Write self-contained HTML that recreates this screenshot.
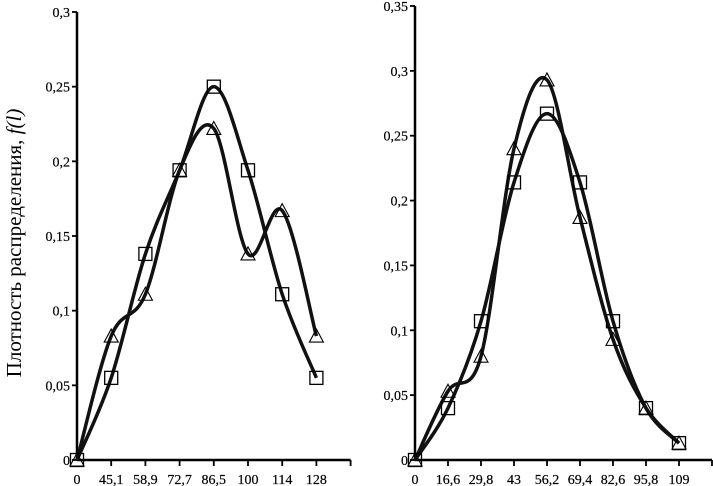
<!DOCTYPE html>
<html><head><meta charset="utf-8"><style>
body{margin:0;background:#fff}
svg{display:block;font-family:"Liberation Serif",serif}
</style></head><body>
<svg id="c" width="713" height="486"></svg>
<script>
const leftCats=["0","45,1","58,9","72,7","86,5","100","114","128"];
const leftSquares=[0,0.055,0.138,0.194,0.25,0.194,0.111,0.055];
const leftTriangles=[0,0.083,0.111,0.194,0.222,0.138,0.167,0.083];
const leftTicks=["0","0,05","0,1","0,15","0,2","0,25","0,3"];
const rightCats=["0","16,6","29,8","43","56,2","69,4","82,6","95,8","109"];
const rightSquares=[0,0.04,0.107,0.214,0.267,0.214,0.107,0.04,0.013];
const rightTriangles=[0,0.053,0.08,0.24,0.293,0.187,0.093,0.04,0.013];
const rightTicks=["0","0,05","0,1","0,15","0,2","0,25","0,3","0,35"];
const NS="http://www.w3.org/2000/svg";
const svg=document.getElementById('c');
function mk(tag,attrs,parent){const e=document.createElementNS(NS,tag);for(const k in attrs)e.setAttribute(k,attrs[k]);(parent||svg).appendChild(e);return e;}
function spline(pts){let d=`M${pts[0][0]},${pts[0][1]}`;for(let i=0;i<pts.length-1;i++){const p0=pts[Math.max(0,i-1)],p1=pts[i],p2=pts[i+1],p3=pts[Math.min(pts.length-1,i+2)];const c1=[p1[0]+(p2[0]-p0[0])/6,p1[1]+(p2[1]-p0[1])/6],c2=[p2[0]-(p3[0]-p1[0])/6,p2[1]-(p3[1]-p1[1])/6];d+=` C${c1[0]},${c1[1]} ${c2[0]},${c2[1]} ${p2[0]},${p2[1]}`;}return d;}
function chart(name,x0,y0,yTop,ymax,step,slots,cats,ticks,sq,tri){
  const g=mk('g',{});
  
  
  const X=i=>x0+i*step, Y=v=>y0-(v/ymax)*(y0-yTop);
  let a=mk('line',{x1:x0,y1:yTop,x2:x0,y2:y0,stroke:'#000','stroke-width':2.5},g);
  
  a=mk('line',{x1:x0,y1:y0,x2:X(slots),y2:y0,stroke:'#000','stroke-width':2.5},g);
  
  ticks.forEach((t,i)=>{const v=i*0.05,y=Y(v);
    mk('line',{x1:x0-5,y1:y,x2:x0,y2:y,stroke:'#000','stroke-width':1.8},g);
    const tx=mk('text',{x:x0-7,y:y+5,'text-anchor':'end','font-size':14,'stroke':'#000','stroke-width':0.2},g);tx.textContent=t;
    });
  for(let i=1;i<=slots;i++)mk('line',{x1:X(i),y1:y0,x2:X(i),y2:y0+6,stroke:'#000','stroke-width':1.8},g);
  cats.forEach((c,i)=>{const tx=mk('text',{x:X(i),y:y0+24,'text-anchor':'middle','font-size':14,'stroke':'#000','stroke-width':0.2},g);tx.textContent=c;
    });
  [sq,tri].forEach((s,k)=>{const p=mk('path',{d:spline(s.map((v,i)=>[X(i),Y(v)])),fill:'none',stroke:'#111','stroke-width':3.5},g);
    });
  sq.forEach((v,i)=>{const r=mk('rect',{x:X(i)-6.5,y:Y(v)-6.5,width:13,height:13,fill:'none',stroke:'#000','stroke-width':1.3},g);
    });
  tri.forEach((v,i)=>{const x=X(i),y=Y(v);const p=mk('polygon',{points:`${x},${y-7} ${x-7},${y+6} ${x+7},${y+6}`,fill:'none',stroke:'#000','stroke-width':1.1},g);
    });
}
chart('left-chart',77,460,12,0.3,34.2,8,leftCats,leftTicks,leftSquares,leftTriangles);
chart('right-chart',415,460,6,0.35,33,9,rightCats,rightTicks,rightSquares,rightTriangles);
const yl=mk('text',{x:0,y:0,transform:'translate(21,243) rotate(-90)','text-anchor':'middle','font-size':21});


yl.innerHTML='Плотность распределения, <tspan font-style="italic">f(l)</tspan>';
</script>
</body></html>
